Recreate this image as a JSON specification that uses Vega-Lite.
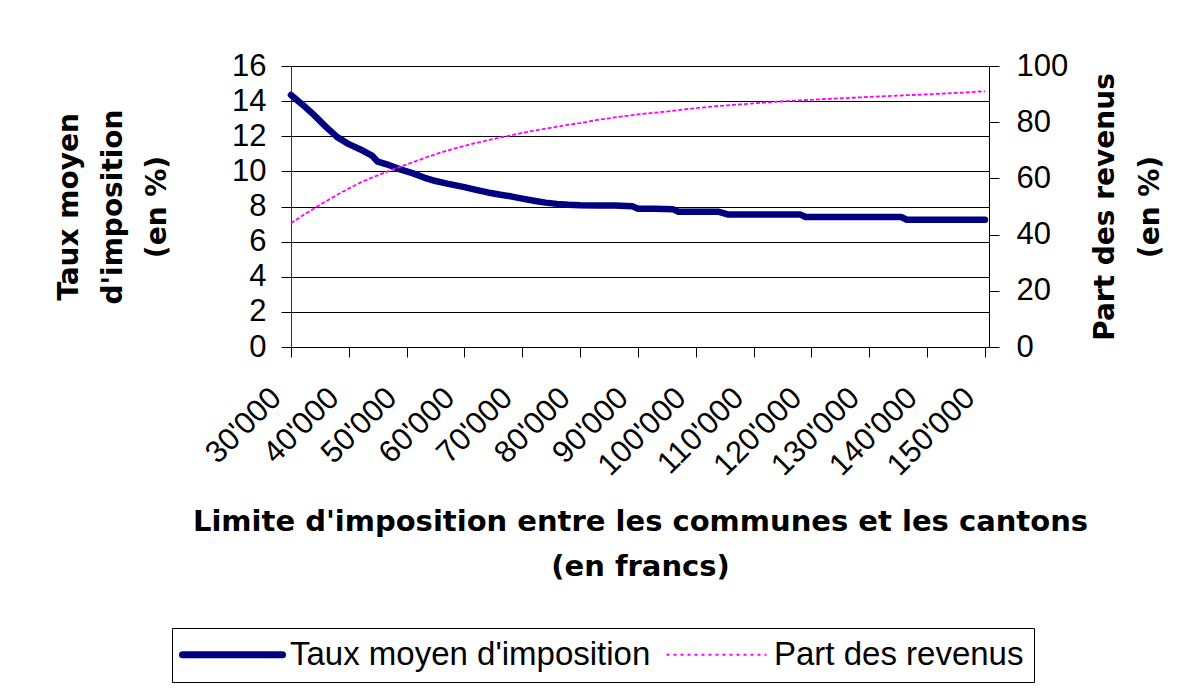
{
  "$schema": "https://vega.github.io/schema/vega-lite/v6.json",
  "width": 698,
  "height": 281,
  "autosize": "none",
  "padding": {"left": 291, "top": 66, "right": 201, "bottom": 344},
  "background": "white",
  "config": {
    "font": "Liberation Sans",
    "view": {"stroke": null},
    "axis": {"labelColor": "black", "titleColor": "black", "tickColor": "black", "domainColor": "#333333", "titleFont": "DejaVu Sans", "labelFont": "Liberation Sans"}
  },
  "data": {"values": [
    {"limite": 30000, "taux": 14.35, "part": 44.0},
    {"limite": 32000, "taux": 13.8, "part": 46.8},
    {"limite": 34000, "taux": 13.2, "part": 49.3},
    {"limite": 36000, "taux": 12.55, "part": 51.8},
    {"limite": 38000, "taux": 11.95, "part": 54.2},
    {"limite": 40000, "taux": 11.55, "part": 56.4},
    {"limite": 42000, "taux": 11.25, "part": 58.5},
    {"limite": 44000, "taux": 10.9, "part": 60.3},
    {"limite": 45000, "taux": 10.55, "part": 61.1},
    {"limite": 47000, "taux": 10.35, "part": 62.7},
    {"limite": 49000, "taux": 10.1, "part": 64.2},
    {"limite": 51000, "taux": 9.9, "part": 65.7},
    {"limite": 53000, "taux": 9.65, "part": 67.2},
    {"limite": 55000, "taux": 9.45, "part": 68.6},
    {"limite": 57000, "taux": 9.3, "part": 69.9},
    {"limite": 60000, "taux": 9.1, "part": 71.6},
    {"limite": 62000, "taux": 8.95, "part": 72.6},
    {"limite": 64000, "taux": 8.8, "part": 73.5},
    {"limite": 66000, "taux": 8.68, "part": 74.5},
    {"limite": 68000, "taux": 8.58, "part": 75.3},
    {"limite": 70000, "taux": 8.45, "part": 76.2},
    {"limite": 72000, "taux": 8.33, "part": 77.0},
    {"limite": 74000, "taux": 8.22, "part": 77.7},
    {"limite": 76000, "taux": 8.15, "part": 78.4},
    {"limite": 78000, "taux": 8.1, "part": 79.1},
    {"limite": 80000, "taux": 8.07, "part": 79.7},
    {"limite": 83000, "taux": 8.05, "part": 80.8},
    {"limite": 86000, "taux": 8.05, "part": 81.7},
    {"limite": 89000, "taux": 8.02, "part": 82.5},
    {"limite": 90000, "taux": 7.87, "part": 82.8},
    {"limite": 93000, "taux": 7.87, "part": 83.4},
    {"limite": 96000, "taux": 7.85, "part": 84.0},
    {"limite": 97000, "taux": 7.7, "part": 84.3},
    {"limite": 100000, "taux": 7.7, "part": 85.0},
    {"limite": 104000, "taux": 7.7, "part": 85.8},
    {"limite": 105500, "taux": 7.55, "part": 86.0},
    {"limite": 110000, "taux": 7.55, "part": 86.7},
    {"limite": 114000, "taux": 7.55, "part": 87.3},
    {"limite": 118000, "taux": 7.55, "part": 87.8},
    {"limite": 119000, "taux": 7.4, "part": 87.9},
    {"limite": 124000, "taux": 7.4, "part": 88.4},
    {"limite": 130000, "taux": 7.4, "part": 89.0},
    {"limite": 135500, "taux": 7.4, "part": 89.5},
    {"limite": 136500, "taux": 7.25, "part": 89.6},
    {"limite": 140000, "taux": 7.25, "part": 89.9},
    {"limite": 145000, "taux": 7.25, "part": 90.4},
    {"limite": 150000, "taux": 7.25, "part": 91.0}
  ]},
  "layer": [
    {
      "mark": {"type": "line", "strokeWidth": 6.5, "strokeCap": "round", "strokeJoin": "round"},
      "encoding": {
        "x": {
          "field": "limite", "type": "quantitative",
          "scale": {"domain": [30000, 150700], "nice": false, "zero": false},
          "axis": {
            "values": [30000, 40000, 50000, 60000, 70000, 80000, 90000, 100000, 110000, 120000, 130000, 140000, 150000],
            "labelExpr": "replace(format(datum.value, ','), ',', \"'\")",
            "labelAngle": -45, "labelAlign": "right", "labelBaseline": "middle",
            "labelFontSize": 31, "labelPadding": 36, "labelOffset": -15, "labelFlush": false, "labelOverlap": false,
            "tickSize": 10, "grid": false, "domainColor": "black",
            "title": ["Limite d'imposition entre les communes et les cantons", "(en francs)"],
            "titleFontSize": 29, "titleFontWeight": "bold", "titleLineHeight": 45, "titlePadding": 27
          }
        },
        "y": {
          "field": "taux", "type": "quantitative",
          "scale": {"domain": [0, 16], "nice": false},
          "axis": {
            "values": [0, 2, 4, 6, 8, 10, 12, 14, 16],
            "labelFontSize": 31, "labelPadding": 15, "tickSize": 10,
            "grid": true, "gridColor": "black", "gridWidth": 1,
            "title": ["Taux moyen", "d'imposition", "(en %)"],
            "titleFontSize": 28, "titleFontWeight": "bold", "titleLineHeight": 44, "titlePadding": 60
          }
        },
        "color": {
          "datum": "Taux moyen d'imposition", "type": "nominal",
          "scale": {"domain": ["Taux moyen d'imposition", "Part des revenus"], "range": ["#000080", "#FF00FF"]},
          "legend": {
            "title": null, "orient": "none", "legendX": -119, "legendY": 562,
            "direction": "horizontal", "strokeColor": "black", "fillColor": "white", "padding": 10,
            "symbolType": "stroke", "symbolSize": 10000, "symbolStrokeWidth": 6, "symbolOffset": 34,
            "labelFont": "Liberation Sans", "labelFontSize": 33, "labelColor": "black", "labelLimit": 600, "labelOffset": 41, "columnPadding": 11,
            "cornerRadius": 0,
            "encode": {"symbols": {"update": {
              "strokeWidth": {"signal": "datum.value === 'Part des revenus' ? 2 : 7"},
              "strokeCap": {"signal": "datum.value === 'Part des revenus' ? 'butt' : 'round'"},
              "strokeDash": {"signal": "datum.value === 'Part des revenus' ? [3, 4] : [1, 0]"}
            }}}
          }
        }
      }
    },
    {
      "mark": {"type": "line", "strokeWidth": 1.8, "strokeDash": [4, 2]},
      "encoding": {
        "x": {"field": "limite", "type": "quantitative"},
        "y": {
          "field": "part", "type": "quantitative",
          "scale": {"domain": [0, 100], "nice": false},
          "axis": {
            "orient": "right",
            "values": [0, 20, 40, 60, 80, 100],
            "labelFontSize": 31, "labelPadding": 17, "tickSize": 10, "grid": false, "domainColor": "black",
            "title": ["Part des revenus", "(en %)"], "titleAngle": -90,
            "titleFontSize": 28, "titleFontWeight": "bold", "titleLineHeight": 45, "titlePadding": 7
          }
        },
        "color": {"datum": "Part des revenus", "type": "nominal"}
      }
    }
  ],
  "resolve": {"scale": {"y": "independent"}}
}
